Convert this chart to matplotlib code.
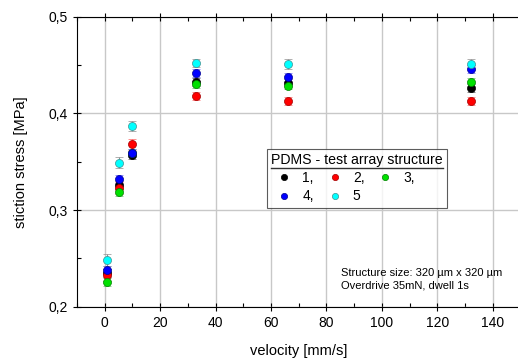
import matplotlib
matplotlib.use("Agg")
import matplotlib.pyplot as plt
from matplotlib.ticker import FuncFormatter, MultipleLocator
from matplotlib.lines import Line2D

plt.rcParams['font.family'] = ['Liberation Sans', 'DejaVu Sans']

velocity = [1, 5, 10, 33, 66, 132]
series_labels = ["1,", "2,", "3,", "4,", "5"]
s1 = [0.235, 0.326, 0.357, 0.4325, 0.4318, 0.4266]
s2 = [0.2328, 0.3225, 0.368, 0.4183, 0.4128, 0.4128]
s3 = [0.2256, 0.319, 0.3587, 0.430, 0.4287, 0.4328]
s4 = [0.2383, 0.3318, 0.359, 0.4414, 0.4376, 0.4462]
s5 = [0.2483, 0.349, 0.3872, 0.4518, 0.4514, 0.4514]
err1 = [0.004, 0.004, 0.004, 0.004, 0.004, 0.004]
err2 = [0.006, 0.006, 0.006, 0.004, 0.004, 0.004]
err3 = [0.004, 0.004, 0.004, 0.004, 0.004, 0.004]
err4 = [0.004, 0.004, 0.004, 0.004, 0.004, 0.004]
err5 = [0.006, 0.006, 0.005, 0.004, 0.005, 0.005]

data = [s1, s2, s3, s4, s5]
errs = [err1, err2, err3, err4, err5]
colors = ["#000000", "#ff0000", "#00e000", "#0000ff", "#00ffff"]
edge = ["#000000", "#a00000", "#008000", "#000090", "#409090"]
ecolors = ["#505050", "#ff6060", "#60c060", "#6060ff", "#909090"]

fig = plt.figure(figsize=(5.18, 3.59), dpi=100)
ax = fig.add_axes([77/518, 52.3/359, 443.4/518, 290/359])

for y, e, c, ec, erc in zip(data, errs, colors, edge, ecolors):
    ax.errorbar(velocity, y, yerr=e, fmt='o', color=c, markersize=5.8,
                markeredgecolor=ec, markeredgewidth=0.5, ecolor=erc,
                elinewidth=0.8, capsize=3, capthick=0.8, zorder=3)

ax.set_xlim(-10, 150)
ax.set_ylim(0.2, 0.5)
ax.xaxis.set_major_locator(MultipleLocator(20))
ax.xaxis.set_minor_locator(MultipleLocator(10))
ax.yaxis.set_major_locator(MultipleLocator(0.1))
ax.yaxis.set_minor_locator(MultipleLocator(0.05))
ax.yaxis.set_major_formatter(FuncFormatter(lambda v, p: f"{v:.1f}".replace('.', ',')))
ax.grid(True, which='major', color='#c8c8c8', linewidth=1.0, zorder=0)
ax.set_axisbelow(True)
ax.tick_params(which='major', direction='inout', length=6, width=0.8, labelsize=10,
               top=True, right=False)
ax.tick_params(which='minor', direction='in', length=3, width=0.8, top=True, right=False)
for s in ax.spines.values():
    s.set_linewidth(0.8)

ax.set_xlabel("velocity [mm/s]", fontsize=10.5, labelpad=10)
ax.set_ylabel("stiction stress [MPa]", fontsize=10.5, labelpad=15)

handles = [Line2D([], [], marker='o', linestyle='none', color=c, markeredgecolor=ec,
                  markeredgewidth=0.5, markersize=4.5) for c, ec in zip(colors, edge)]
order = [0, 3, 1, 4, 2]
leg = ax.legend([handles[i] for i in order], [series_labels[i] for i in order],
                title="PDMS - test array structure", ncol=3,
                loc='upper left', bbox_to_anchor=(0.4285, 0.544), borderaxespad=0,
                fontsize=10, title_fontsize=10.2, frameon=True, fancybox=False,
                edgecolor='#333333', handletextpad=0.35, columnspacing=0.55,
                borderpad=0.3, labelspacing=0.3, handlelength=1.9)
leg._legend_box.align = "left"
leg.get_frame().set_linewidth(0.8)
# underline
fig.canvas.draw()
tb = leg.get_title().get_window_extent()
inv = fig.transFigure.inverted()
(x0, y0), (x1, y1) = inv.transform([(tb.x0, tb.y0), (tb.x1, tb.y0)])
fig.add_artist(Line2D([x0, x1], [y0 - 0.002, y1 - 0.002], color='#333333', linewidth=1.0,
                      transform=fig.transFigure))

ax.text(0.595, 0.133, "Structure size: 320 µm x 320 µm\nOverdrive 35mN, dwell 1s",
        transform=ax.transAxes, fontsize=8, va='top', ha='left', linespacing=1.3)

fig.savefig("out.png", dpi=100)
